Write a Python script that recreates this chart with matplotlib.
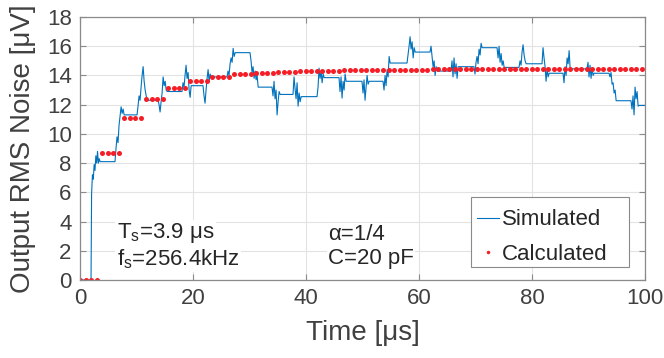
import numpy as np
import matplotlib
matplotlib.use("Agg")
import matplotlib.pyplot as plt
from matplotlib.patches import Rectangle

plt.rcParams['font.family'] = ['Liberation Sans', 'DejaVu Sans']
plt.rcParams['mathtext.default'] = 'regular'

# Calculated noise: one level per sampling period Ts, 4 points per period
Ts = 3.9
calc_levels = [0.0, 8.67, 11.07, 12.39, 13.14, 13.64, 13.92, 14.10, 14.20, 14.26,
               14.30, 14.33, 14.36, 14.38, 14.39, 14.40, 14.41, 14.41, 14.42, 14.42,
               14.42, 14.42, 14.42, 14.42, 14.42, 14.42]
pts_per_period = 4

# Simulated noise: initial rise, then one noisy burst per period
rise_t = [0.0, 1.95, 2.05, 2.2, 2.35, 2.5, 2.65, 2.8, 2.95, 3.1, 3.25, 3.4, 3.55]
rise_v = [0.0, 0.0, 5.9, 7.2, 6.9, 7.9, 7.5, 8.5, 8.0, 8.8, 8.0, 8.3, 8.1]

burst_start = [6.19, 10.09, 13.81, 18.05, 21.77, 26.02, 30.09, 33.98, 37.70, 41.95,
               45.84, 49.91, 53.63, 57.88, 61.95, 65.66, 69.73, 73.81, 77.70, 81.77,
               85.49, 89.73, 93.63, 97.52]
bursts = [
    [8.1, 9.0, 9.8, 9.4, 10.6, 11.2, 11.85, 11.4, 11.7, 11.3],
    [11.3, 11.9, 12.6, 12.3, 13.2, 14.0, 14.6, 13.6, 13.0, 12.6, 12.3],
    [12.3, 12.0, 11.5, 12.2, 12.8, 13.9, 13.3, 13.6, 13.0, 12.9],
    [12.9, 13.5, 13.2, 14.0, 14.7, 13.8, 14.2, 13.0, 12.5, 13.3],
    [13.3, 12.6, 12.1, 13.0, 13.8, 14.4, 13.6, 14.1, 13.9],
    [13.9, 14.3, 14.0, 14.8, 15.2, 14.9, 15.85, 15.3, 15.56],
    [15.56, 15.0, 14.2, 14.6, 13.8, 14.3, 13.7, 14.0, 13.2],
    [13.2, 12.6, 13.6, 12.4, 13.0, 11.3, 12.2, 12.9, 12.7],
    [12.7, 13.9, 13.1, 12.4, 13.5, 11.9, 12.8, 12.2, 12.55],
    [12.55, 13.2, 14.5, 13.8, 14.3, 13.5, 14.1, 13.85],
    [13.85, 12.9, 13.9, 12.45, 13.6, 13.0, 14.1, 13.6],
    [13.6, 12.8, 13.7, 12.3, 13.2, 14.0, 13.4, 13.6],
    [13.6, 13.0, 14.0, 13.3, 14.4, 13.9, 15.3, 14.85],
    [14.85, 15.4, 16.0, 16.65, 15.8, 16.3, 15.2, 15.9, 15.6],
    [15.6, 16.0, 15.3, 14.6, 15.0, 14.0, 14.6, 14.3],
    [14.3, 15.0, 13.9, 15.2, 14.1, 14.8, 13.8, 14.6],
    [14.6, 14.1, 14.9, 15.3, 14.8, 15.8, 15.4, 16.2, 15.9],
    [15.9, 15.2, 16.0, 14.9, 15.5, 14.7, 15.0, 14.55],
    [14.55, 15.0, 14.7, 15.6, 16.1, 15.4, 15.0, 14.8],
    [14.8, 15.9, 15.2, 14.6, 13.6, 14.5, 13.9, 14.15],
    [14.15, 13.5, 14.6, 14.0, 15.2, 14.8, 15.7, 14.45],
    [14.45, 14.9, 13.9, 14.7, 13.8, 14.5, 14.0, 14.15],
    [14.15, 13.9, 14.2, 13.4, 13.5, 12.8, 13.0, 12.27],
    [12.27, 11.7, 12.6, 11.3, 13.2, 12.4, 12.9, 11.9, 11.95],
]
burst_dt = 0.18

# assemble simulated trace
sim_t = list(rise_t)
sim_v = list(rise_v)
for t0, vals in zip(burst_start, bursts):
    for j, v in enumerate(vals):
        sim_t.append(t0 + j * burst_dt)
        sim_v.append(v)
sim_t.append(100.0)
sim_v.append(sim_v[-1])

calc_t = np.arange(0, 100.01, Ts / pts_per_period)
calc_v = np.repeat(calc_levels, pts_per_period)[:len(calc_t)]

fig = plt.figure(figsize=(6.64, 3.58), dpi=100)
ax = fig.add_axes([0.1205, 0.2179, 0.8509, 0.7346])

ax.plot(sim_t, sim_v, color='#0072BD', lw=0.8, label='Simulated')
ax.plot(calc_t, calc_v, ls='none', marker='o', ms=3.6, color='#F51E26',
        mec='none', label='Calculated')

ax.set_xlim(0, 100)
ax.set_ylim(0, 18)
ax.set_xticks(np.arange(0, 101, 20))
ax.set_yticks(np.arange(0, 19, 2))
ax.grid(True, color='#e3e3e3', lw=0.8)
ax.set_axisbelow(True)
for s in ax.spines.values():
    s.set_color('#8a8a8a')
    s.set_linewidth(0.9)
ax.tick_params(direction='in', top=True, right=True, length=4, width=0.8,
               color='#8a8a8a', labelsize=16, labelcolor='#404040', pad=6)

ax.set_xlabel('Time [μs]', fontsize=20, color='#404040', labelpad=8)
ax.set_ylabel('Output RMS Noise [μV]', fontsize=20, color='#404040', labelpad=8)

box = dict(facecolor='white', edgecolor='none', pad=1)
ax.text(6.5, 3.2, 'T$_s$=3.9 μs', fontsize=16, color='#262626', va='center', bbox=box)
ax.text(6.5, 1.45, 'f$_s$=256.4kHz', fontsize=16, color='#262626', va='center', bbox=box)
ax.text(43.9, 3.1, 'α=1/4', fontsize=16, color='#262626', va='center', bbox=box)
ax.text(43.9, 1.45, 'C=20 pF', fontsize=16, color='#262626', va='center', bbox=box)

# MATLAB-style legend box: wider on the right than the entries need
ax.add_patch(Rectangle((0.692, 0.049), 0.280, 0.267, transform=ax.transAxes,
                       facecolor='white', edgecolor='#8a8a8a', lw=0.8, zorder=4))
leg = ax.legend(loc='upper left', bbox_to_anchor=(0.692, 0.29), borderaxespad=0,
                fontsize=16, frameon=False, handlelength=1.0,
                handletextpad=0.15, borderpad=0.25, labelspacing=0.6, markerscale=0.7)
leg.set_zorder(5)
for t in leg.get_texts():
    t.set_color('#262626')

fig.savefig('out.png', dpi=100)
